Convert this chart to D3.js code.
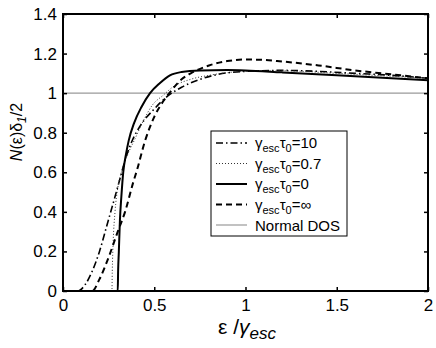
<!DOCTYPE html>
<html><head><meta charset="utf-8">
<script src="https://cdn.jsdelivr.net/npm/d3@7"></script>
<style>body{margin:0;background:#fff}svg{display:block}text{font-family:"Liberation Sans",Arial,sans-serif}</style>
</head><body><div id="c"></div>
<script>
const xTicks = [0, 0.5, 1, 1.5, 2];
const yTicks = [0, 0.2, 0.4, 0.6, 0.8, 1, 1.2, 1.4];
const xTickLabels = ["0", "0.5", "1", "1.5", "2"];
const yTickLabels = ["0", "0.2", "0.4", "0.6", "0.8", "1", "1.2", "1.4"];

// γesc τ0 = 10 (dash-dot)
const x10 = [0, 0.08, 0.12, 0.16, 0.2, 0.24, 0.28, 0.31, 0.34, 0.37, 0.42, 0.5, 0.58, 0.65, 0.75, 0.85, 1.0, 1.2, 1.4, 1.6, 1.8, 2.0];
const y10 = [0, 0, 0.03, 0.1, 0.2, 0.33, 0.46, 0.56, 0.66, 0.74, 0.83, 0.92, 0.99, 1.03, 1.07, 1.095, 1.11, 1.115, 1.11, 1.1, 1.09, 1.075];
// γesc τ0 = 0.7 (dotted)
const x07 = [0, 0.268, 0.27, 0.275, 0.285, 0.3, 0.32, 0.35, 0.395, 0.44, 0.49, 0.55, 0.6, 0.7, 0.8, 1.0, 1.2, 1.5, 2.0];
const y07 = [0, 0, 0.1, 0.25, 0.4, 0.52, 0.6, 0.68, 0.77, 0.86, 0.94, 0.99, 1.03, 1.07, 1.09, 1.11, 1.113, 1.1, 1.075];
// γesc τ0 = 0 (solid)
const x0 = [0, 0.3, 0.302, 0.306, 0.312, 0.32, 0.33, 0.345, 0.36, 0.39, 0.43, 0.477, 0.53, 0.586, 0.65, 0.75, 0.9, 1.0, 1.2, 1.5, 2.0];
const y0 = [0, 0, 0.1, 0.2, 0.36, 0.48, 0.6, 0.69, 0.76, 0.85, 0.93, 1.0, 1.05, 1.09, 1.107, 1.115, 1.117, 1.115, 1.105, 1.09, 1.065];
// γesc τ0 = ∞ (dashed)
const xInf = [0, 0.16, 0.2, 0.25, 0.3, 0.34, 0.385, 0.405, 0.45, 0.5, 0.55, 0.6, 0.65, 0.7, 0.8, 0.9, 1.0, 1.1, 1.2, 1.4, 1.6, 1.8, 2.0];
const yInf = [0, 0, 0.06, 0.17, 0.3, 0.4, 0.55, 0.61, 0.76, 0.88, 0.96, 1.02, 1.07, 1.1, 1.14, 1.162, 1.17, 1.168, 1.16, 1.14, 1.115, 1.095, 1.075];
// Normal DOS
const xNorm = [0, 2];
const yNorm = [1, 1];

const legendTau = ["10", "0.7", "0", "\u221E"];

const W = 436, H = 348;
const m = {l: 63, r: 8, t: 14, b: 57};
const svg = d3.select("#c").append("svg").attr("width", W).attr("height", H);
const x = d3.scaleLinear().domain([0, 2]).range([m.l, W - m.r]);
const y = d3.scaleLinear().domain([0, 1.4]).range([H - m.b, m.t]);

const zip = (a, b) => a.map((v, i) => [v, b[i]]);
const line = d3.line().x(d => x(d[0])).y(d => y(d[1])).curve(d3.curveMonotoneX);

const g = svg.append("g");
g.append("path").datum(zip(xNorm, yNorm)).attr("d", line).attr("fill", "none").attr("stroke", "#9a9a9a").attr("stroke-width", 1.2);

const series = [
  {d: zip(x10, y10), dash: "7,3,1.5,3", w: 1.6, c: "#000"},
  {d: zip(x07, y07), dash: "1,2", w: 1, c: "#333"},
  {d: zip(x0, y0), dash: null, w: 2, c: "#000"},
  {d: zip(xInf, yInf), dash: "6,4", w: 2, c: "#000"},
];
series.forEach(s => {
  g.append("path").datum(s.d).attr("d", line).attr("fill", "none")
    .attr("stroke", s.c).attr("stroke-width", s.w).attr("stroke-dasharray", s.dash);
});

// axes
const tickLen = 4;
const ax = svg.append("g").attr("transform", `translate(0,${y(0)})`)
  .call(d3.axisBottom(x).tickValues(xTicks).tickFormat((d, i) => xTickLabels[i]).tickSizeInner(-tickLen).tickSizeOuter(0).tickPadding(8));
const axT = svg.append("g").attr("transform", `translate(0,${y(1.4)})`)
  .call(d3.axisTop(x).tickValues(xTicks).tickFormat("").tickSizeInner(-tickLen).tickSizeOuter(0));
const ay = svg.append("g").attr("transform", `translate(${x(0)},0)`)
  .call(d3.axisLeft(y).tickValues(yTicks).tickFormat((d, i) => yTickLabels[i]).tickSizeInner(-tickLen).tickSizeOuter(0).tickPadding(6));
const ayR = svg.append("g").attr("transform", `translate(${x(2)},0)`)
  .call(d3.axisRight(y).tickValues(yTicks).tickFormat("").tickSizeInner(-tickLen).tickSizeOuter(0));
[ax, axT, ay, ayR].forEach(a => {
  a.select(".domain").remove();
  a.selectAll("line").attr("stroke", "#000").attr("stroke-width", 1.5);
  a.selectAll("text").attr("font-size", 17).attr("fill", "#000").attr("font-family", "Liberation Sans, Arial, sans-serif");
});
svg.append("rect").attr("x", x(0)).attr("y", y(1.4)).attr("width", x(2) - x(0)).attr("height", y(0) - y(1.4))
  .attr("fill", "none").attr("stroke", "#000").attr("stroke-width", 2);

// legend
const lg = svg.append("g");
const lx = 211, ly = 131, lw = 136, lh = 105;
lg.append("rect").attr("x", lx).attr("y", ly).attr("width", lw).attr("height", lh)
  .attr("fill", "#fff").attr("stroke", "#000").attr("stroke-width", 1);
const rows = [0, 1, 2, 3, 4].map(i => ly + 12 + i * 20.5);
series.forEach((s, i) => {
  lg.append("line").attr("x1", lx + 5).attr("x2", lx + 36).attr("y1", rows[i]).attr("y2", rows[i])
    .attr("stroke", s.c).attr("stroke-width", s.w).attr("stroke-dasharray", s.dash);
  const t = lg.append("text").attr("x", lx + 44).attr("y", rows[i] + 5).attr("font-size", 15).attr("fill", "#000");
  t.append("tspan").text("\u03B3");
  t.append("tspan").attr("font-size", 11).attr("dy", 4).text("esc");
  t.append("tspan").attr("dy", -4).text("\u03C4");
  t.append("tspan").attr("font-size", 11).attr("dy", 4).text("0");
  t.append("tspan").attr("dy", -4).text("=" + legendTau[i]);
});
lg.append("line").attr("x1", lx + 5).attr("x2", lx + 36).attr("y1", rows[4]).attr("y2", rows[4])
  .attr("stroke", "#9a9a9a").attr("stroke-width", 1.2);
lg.append("text").attr("x", lx + 44).attr("y", rows[4] + 6).attr("font-size", 15).attr("fill", "#000").text("Normal DOS");

// x label
const xl = svg.append("text").attr("x", 218).attr("y", 334).attr("font-size", 21).attr("fill", "#000");
xl.append("tspan").text("\u03B5 /");
xl.append("tspan").attr("font-style", "italic").text("\u03B3");
xl.append("tspan").attr("font-style", "italic").attr("font-size", 17).attr("dy", 5).text("esc");

// y label
const yl = svg.append("text").attr("transform", "translate(22,132) rotate(-90)").attr("text-anchor", "middle")
  .attr("font-size", 16).attr("fill", "#000");
yl.append("tspan").attr("font-style", "italic").text("N");
yl.append("tspan").text("(\u03B5)\u03B4");
yl.append("tspan").attr("font-style", "italic").attr("font-size", 12).attr("dy", 4).text("1");
yl.append("tspan").attr("dy", -4).text("/2");
</script></body></html>
